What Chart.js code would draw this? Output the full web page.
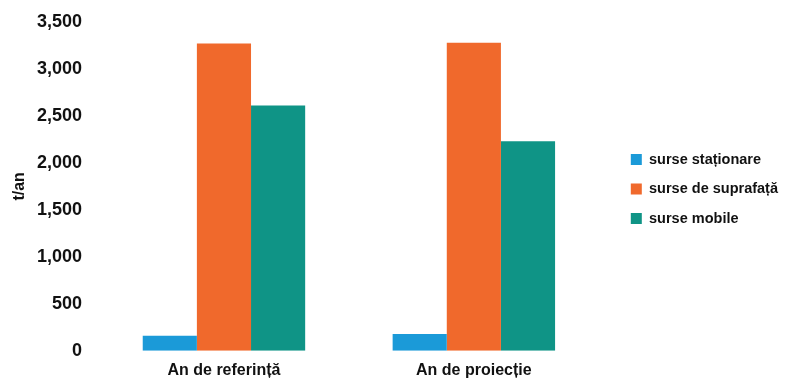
<!DOCTYPE html>
<html>
<head>
<meta charset="utf-8">
<script src="https://cdn.jsdelivr.net/npm/chart.js@4/dist/chart.umd.min.js"></script>
<style>
  html, body { margin: 0; padding: 0; background: #fff; }
  #wrap { width: 791px; height: 385px; }
</style>
</head>
<body>
<div id="wrap"><canvas id="bar-chart"></canvas></div>
<script>
// DATA
// ---------------------------------------------------
const categories = [ 'An de referință', 'An de proiecție' ];
const seriesNames = [ 'surse staționare', 'surse de suprafață', 'surse mobile' ];
const stationare = [ 160, 180 ];
const suprafata = [ 3270, 3280 ];
const mobile = [ 2610, 2230 ];
const yTicks = [ 0, 500, 1000, 1500, 2000, 2500, 3000, 3500 ];

const colors = [ '#1b9ad8', '#f0692c', '#0f9486' ];

// move the legend a bit away from the plot, after the plot area is set
const legendShift = {
    id: 'legendShift',
    afterLayout: function ( chart ) {
        const lg = chart.legend;
        lg.left += 17; lg.right += 17;
        lg.top -= 17; lg.bottom -= 17;
    }
};

window.addEventListener( 'load', function () {
    const ctx = document.querySelector( '#bar-chart' );
    const values = [ stationare, suprafata, mobile ];

    const dataBarChart = {
        labels: categories,
        datasets: seriesNames.map( function ( name, i ) {
            return {
                label: name,
                data: values[ i ],
                backgroundColor: colors[ i ],
                borderWidth: 0,
                barPercentage: 1,
                categoryPercentage: 0.65
            };
        })
    };

    const font = "'Liberation Sans', Arial, sans-serif";

    new Chart( ctx, {
        type: 'bar',
        data: dataBarChart,
        plugins: [ legendShift ],
        options: {
            responsive: true,
            maintainAspectRatio: false,
            animation: false,
            layout: {
                padding: { left: 6, top: 22, right: 20, bottom: -5 }
            },
            plugins: {
                tooltip: { enabled: false },
                legend: {
                    position: 'right',
                    align: 'center',
                    labels: {
                        boxWidth: 11,
                        boxHeight: 11,
                        padding: 15,
                        color: '#111',
                        font: { family: font, size: 14.5, weight: 'bold' }
                    }
                }
            },
            scales: {
                x: {
                    grid: { display: false, drawTicks: false },
                    border: { display: false },
                    ticks: {
                        color: '#111',
                        padding: 10,
                        font: { family: font, size: 16, weight: 'bold' }
                    }
                },
                y: {
                    min: yTicks[ 0 ],
                    max: yTicks[ yTicks.length - 1 ],
                    grid: { display: false, drawTicks: false },
                    border: { display: false },
                    afterBuildTicks: function ( axis ) {
                        axis.ticks = yTicks.map( function ( v ) { return { value: v }; });
                    },
                    afterFit: function ( axis ) {
                        axis.width = 93;
                        axis.paddingTop = 0;
                    },
                    ticks: {
                        color: '#111',
                        padding: 17,
                        font: { family: font, size: 18, weight: 'bold' },
                        callback: function ( v ) { return v.toLocaleString( 'en-US' ); }
                    },
                    title: {
                        display: true,
                        text: 't/an',
                        color: '#111',
                        font: { family: font, size: 16, weight: 'bold' }
                    }
                }
            }
        }
    });
}, false );
</script>
</body>
</html>
